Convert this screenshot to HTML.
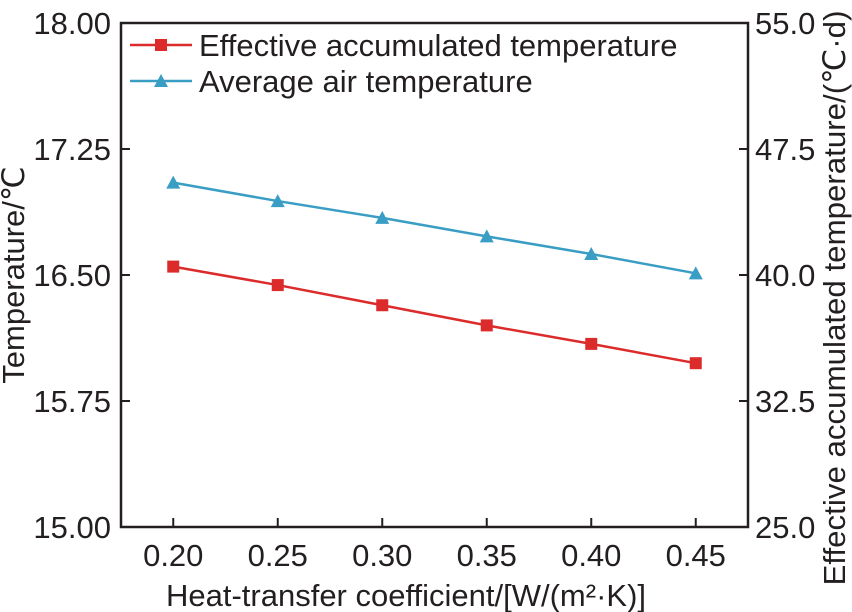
<!DOCTYPE html>
<html><head><meta charset="utf-8"><style>
body{margin:0;background:#fff;}
svg{display:block;font-family:"Liberation Sans",sans-serif;}
</style></head><body>
<svg id="c" width="852" height="612"></svg>
<script>
const xs=[0.20,0.25,0.30,0.35,0.40,0.45];
const avgTemp=[17.05,16.94,16.84,16.73,16.625,16.51];
const effAcc=[40.5,39.4,38.2,37.0,35.9,34.75];
const xTicks=["0.20","0.25","0.30","0.35","0.40","0.45"];
const yLTicks=["15.00","15.75","16.50","17.25","18.00"];
const yRTicks=["25.0","32.5","40.0","47.5","55.0"];
const L=121,R=748,T=23,B=527,FS=31;
const X=v=>L+(v-0.175)/(0.475-0.175)*(R-L);
const YL=v=>B-(v-15)/3*(B-T);
const YR=v=>B-(v-25)/30*(B-T);
const s=document.getElementById('c');const NS='http://www.w3.org/2000/svg';
function mk(t,a,p){const e=document.createElementNS(NS,t);for(const k in a)e.setAttribute(k,a[k]);(p||s).appendChild(e);return e;}
let e;
e=mk('rect',{x:L,y:T,width:R-L,height:B-T,fill:'none',stroke:'#231f20','stroke-width':2.5});

xTicks.forEach(t=>{const x=X(+t);
 e=mk('line',{x1:x,x2:x,y1:B,y2:B-9,stroke:'#231f20','stroke-width':2});
 
 e=mk('text',{x:x,y:B+39,'text-anchor':'middle','font-size':FS,fill:'#231f20'});e.textContent=t;
 });
yLTicks.forEach(t=>{const y=YL(+t);
 e=mk('line',{x1:L,x2:L+9,y1:y,y2:y,stroke:'#231f20','stroke-width':2});
 
 e=mk('text',{x:L-10,y:y+11,'text-anchor':'end','font-size':FS,fill:'#231f20'});e.textContent=t;
 });
yRTicks.forEach(t=>{const y=YR(+t);
 e=mk('line',{x1:R,x2:R-9,y1:y,y2:y,stroke:'#231f20','stroke-width':2});
 
 e=mk('text',{x:R+7,y:y+11,'font-size':FS,fill:'#231f20'});e.textContent=t;
 });
e=mk('text',{x:406,y:606,'text-anchor':'middle','font-size':FS,fill:'#231f20'});e.textContent='Heat-transfer coefficient/[W/(m²·K)]';

e=mk('text',{x:0,y:0,'text-anchor':'middle','font-size':FS,fill:'#231f20',transform:`translate(24,${(T+B)/2}) rotate(-90)`});e.textContent='Temperature/℃';

e=mk('text',{x:0,y:0,'text-anchor':'middle','font-size':FS,fill:'#231f20',transform:`translate(845,298) rotate(-90)`,textLength:575,lengthAdjust:'spacingAndGlyphs'});e.textContent='Effective accumulated temperature/(℃·d)';

const blue='#3a9ec4',red='#dc2b2b';
e=mk('polyline',{points:xs.map((x,i)=>X(x)+','+YL(avgTemp[i])).join(' '),fill:'none',stroke:blue,'stroke-width':2.5});

xs.forEach((x,i)=>{const cx=X(x),cy=YL(avgTemp[i]);
 e=mk('polygon',{points:`${cx},${cy-7} ${cx-7},${cy+6} ${cx+7},${cy+6}`,fill:blue});
 });
e=mk('polyline',{points:xs.map((x,i)=>X(x)+','+YR(effAcc[i])).join(' '),fill:'none',stroke:red,'stroke-width':2.5});

xs.forEach((x,i)=>{const cx=X(x),cy=YR(effAcc[i]);
 e=mk('rect',{x:cx-6,y:cy-6,width:12,height:12,fill:red});
 });
e=mk('line',{x1:130,x2:192,y1:45,y2:45,stroke:red,'stroke-width':2.5});
e=mk('rect',{x:155,y:39,width:12,height:12,fill:red});
e=mk('text',{x:199,y:56,'font-size':FS,fill:'#231f20'});e.textContent='Effective accumulated temperature';
e=mk('line',{x1:130,x2:192,y1:81,y2:81,stroke:blue,'stroke-width':2.5});
e=mk('polygon',{points:'161,74 154,87 168,87',fill:blue});
e=mk('text',{x:199,y:92,'font-size':FS,fill:'#231f20'});e.textContent='Average air temperature';
</script>
</body></html>
